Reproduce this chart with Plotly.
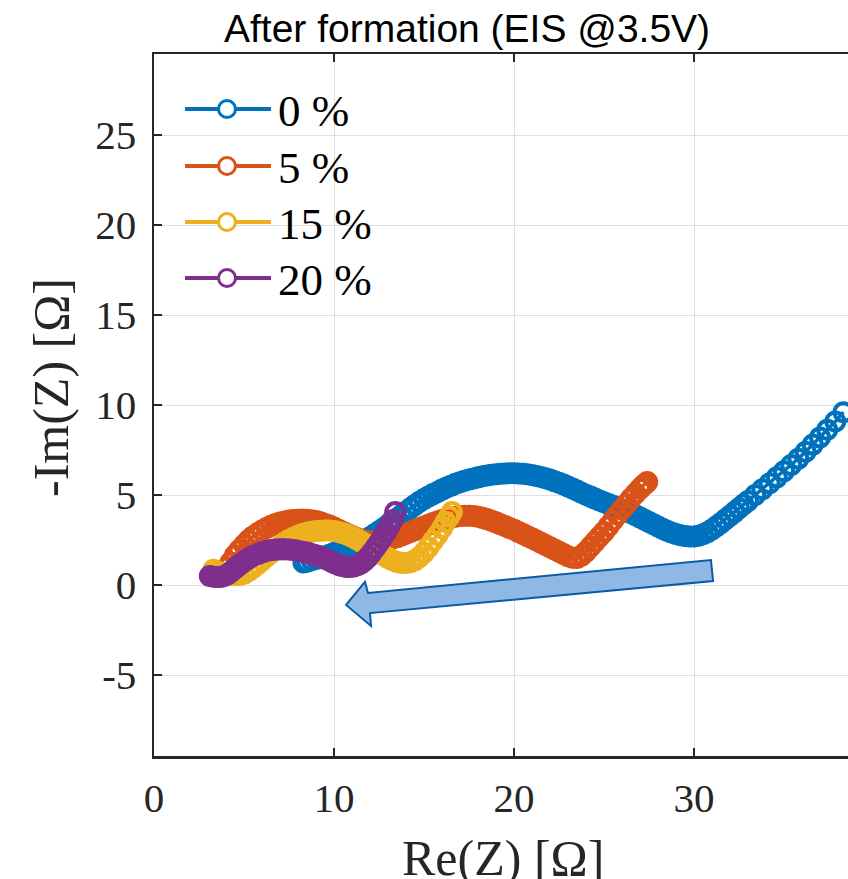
import plotly.graph_objects as go

# ---------------- data ----------------
series_labels = ["0 %", "5 %", "15 %", "20 %"]
series_colors = ["#0072BD", "#D95319", "#EDB120", "#7E2F8E"]

re_0 = [8.3, 8.5, 8.75, 9.0, 9.25, 9.5, 9.75, 10.0, 10.25, 10.5, 10.75, 11.0, 11.25, 11.5,
        11.75, 12.0, 12.25, 12.5, 12.75, 13.0, 13.25, 13.5, 13.75, 14.0, 14.25, 14.5,
        14.75, 15.0, 15.25, 15.5, 15.75, 16.0, 16.25, 16.5, 16.75, 17.0, 17.25, 17.5,
        17.75, 18.0, 18.25, 18.5, 18.75, 19.0, 19.25, 19.5, 19.75, 20.0, 20.25, 20.5,
        20.75, 21.0, 21.25, 21.5, 21.75, 22.0, 22.25, 22.5, 22.75, 23.0, 23.25, 23.5,
        23.75, 24.0, 24.25, 24.5, 24.75, 25.0, 25.25, 25.5, 25.75, 26.0, 26.25, 26.5,
        26.75, 27.0, 27.25, 27.5, 27.75, 28.0, 28.25, 28.5, 28.75, 29.0, 29.25, 29.5,
        29.75, 30.0, 30.25, 30.5, 30.75, 31.0, 31.25, 31.5, 31.75, 32.0, 32.25, 32.5,
        32.75, 33.0, 33.4, 33.8, 34.2, 34.6, 35.0, 35.4, 35.8, 36.2, 36.6, 37.0, 37.4,
        37.85, 38.3]
im_0 = [1.25, 1.3, 1.37, 1.45, 1.52, 1.6, 1.68, 1.78, 1.88, 1.97, 2.07, 2.16, 2.27, 2.4,
        2.52, 2.65, 2.82, 2.98, 3.15, 3.33, 3.52, 3.7, 3.89, 4.07, 4.26, 4.45,
        4.62, 4.78, 4.92, 5.05, 5.17, 5.3, 5.42, 5.52, 5.62, 5.71, 5.79, 5.86,
        5.92, 5.98, 6.04, 6.08, 6.12, 6.15, 6.18, 6.2, 6.21, 6.21, 6.2, 6.18,
        6.15, 6.11, 6.06, 6.0, 5.93, 5.86, 5.77, 5.68, 5.58, 5.47, 5.36, 5.25,
        5.13, 5.01, 4.91, 4.8, 4.7, 4.6, 4.5, 4.4, 4.31, 4.21, 4.11, 4.0,
        3.88, 3.75, 3.62, 3.5, 3.37, 3.25, 3.13, 3.02, 2.92, 2.83, 2.76, 2.72,
        2.7, 2.7, 2.74, 2.82, 2.93, 3.08, 3.26, 3.45, 3.65, 3.85, 4.05, 4.26,
        4.47, 4.67, 5.0, 5.32, 5.65, 5.98, 6.32, 6.67, 7.02, 7.4, 7.8, 8.2, 8.62,
        9.08, 9.6]

re_5 = [4.1, 4.25, 4.5, 4.75, 5.0, 5.25, 5.5, 5.75, 6.0, 6.25, 6.5, 6.75, 7.0, 7.25, 7.5,
        7.75, 8.0, 8.25, 8.5, 8.75, 9.0, 9.25, 9.5, 9.75, 10.0, 10.25, 10.5, 10.75,
        11.0, 11.25, 11.5, 11.75, 12.0, 12.25, 12.5, 12.75, 13.0, 13.25, 13.5, 13.75,
        14.0, 14.25, 14.5, 14.75, 15.0, 15.25, 15.5, 15.75, 16.0, 16.25, 16.5, 16.75,
        17.0, 17.25, 17.5, 17.75, 18.0, 18.25, 18.5, 18.75, 19.0, 19.25, 19.5, 19.75,
        20.0, 20.25, 20.5, 20.75, 21.0, 21.25, 21.5, 21.75, 22.0, 22.25, 22.5, 22.75,
        23.0, 23.25, 23.5, 23.75, 24.0, 24.25, 24.5, 24.75, 25.0, 25.25, 25.5, 25.75,
        26.0, 26.25, 26.5, 26.75, 27.0, 27.15, 27.3, 27.4]
im_5 = [1.0, 1.25, 1.65, 1.95, 2.22, 2.48, 2.7, 2.88, 3.03, 3.17, 3.29, 3.39, 3.47, 3.53, 3.58,
        3.61, 3.63, 3.64, 3.63, 3.6, 3.55, 3.48, 3.39, 3.3, 3.19, 3.07, 2.95, 2.83,
        2.72, 2.61, 2.52, 2.46, 2.42, 2.41, 2.42, 2.46, 2.51, 2.58, 2.66, 2.75,
        2.85, 2.95, 3.05, 3.15, 3.25, 3.35, 3.45, 3.53, 3.61, 3.68, 3.74, 3.79,
        3.83, 3.85, 3.85, 3.83, 3.79, 3.73, 3.66, 3.57, 3.48, 3.38, 3.28, 3.17,
        3.07, 2.95, 2.83, 2.71, 2.6, 2.47, 2.35, 2.22, 2.1, 1.97, 1.85, 1.72,
        1.6, 1.52, 1.5, 1.62, 1.85, 2.12, 2.4, 2.68, 2.95, 3.26, 3.58, 3.9,
        4.2, 4.5, 4.8, 5.08, 5.35, 5.5, 5.62, 5.72]

re_15 = [3.3, 3.5, 3.75, 4.0, 4.25, 4.5, 4.75, 5.0, 5.25, 5.5, 5.75, 6.0, 6.25, 6.5, 6.75,
         7.0, 7.25, 7.5, 7.75, 8.0, 8.25, 8.5, 8.75, 9.0, 9.25, 9.5, 9.75, 10.0, 10.25,
         10.5, 10.75, 11.0, 11.25, 11.5, 11.75, 12.0, 12.25, 12.5, 12.75, 13.0, 13.25,
         13.5, 13.75, 14.0, 14.25, 14.5, 14.75, 15.0, 15.25, 15.5, 15.75, 16.0, 16.2,
         16.4, 16.55]
im_15 = [0.85, 0.76, 0.68, 0.62, 0.57, 0.55, 0.56, 0.62, 0.76, 0.95, 1.15, 1.36, 1.58, 1.8, 1.99,
         2.17, 2.35, 2.5, 2.62, 2.73, 2.83, 2.9, 2.96, 3.0, 3.02, 3.03, 3.03, 3.0, 2.94,
         2.88, 2.79, 2.68, 2.55, 2.41, 2.27, 2.11, 1.95, 1.8, 1.65, 1.5, 1.37,
         1.28, 1.23, 1.22, 1.27, 1.38, 1.56, 1.8, 2.1, 2.44, 2.78, 3.15, 3.5,
         3.8, 4.05]

re_20 = [3.1, 3.3, 3.5, 3.7, 3.9, 4.1, 4.3, 4.5, 4.7, 4.9, 5.1, 5.3, 5.5, 5.7, 5.9, 6.1,
         6.3, 6.5, 6.7, 6.9, 7.1, 7.3, 7.5, 7.7, 7.9, 8.1, 8.3, 8.5, 8.7, 8.9, 9.1, 9.3,
         9.5, 9.7, 9.9, 10.1, 10.3, 10.5, 10.7, 10.9, 11.1, 11.3, 11.5, 11.7, 11.9, 12.1,
         12.3, 12.5, 12.7, 12.9, 13.1, 13.25, 13.4]
im_20 = [0.5, 0.46, 0.44, 0.45, 0.5, 0.6, 0.75, 0.92, 1.08, 1.24, 1.38, 1.5, 1.61, 1.7, 1.78, 1.85,
         1.9, 1.94, 1.96, 1.98, 1.98, 1.98, 1.97, 1.95, 1.92, 1.88, 1.84, 1.8, 1.74, 1.68, 1.62, 1.54,
         1.46, 1.37, 1.27, 1.18, 1.1, 1.04, 1.0, 1.0, 1.03, 1.1, 1.2, 1.35, 1.55, 1.8,
         2.07, 2.35, 2.65, 2.95, 3.3, 3.6, 4.05]

series_re = [re_0, re_5, re_15, re_20]
series_im = [im_0, im_5, im_15, im_20]

# block arrow outline (data units)
arrow_x = [10.67, 11.72, 11.89, 30.94, 31.06, 12.0, 12.06]
arrow_y = [-1.11, 0.17, -0.44, 1.39, 0.22, -1.56, -2.28]

x_tickvals = [0, 10, 20, 30]
x_ticktext = ["0", "10", "20", "30"]
y_tickvals = [-5, 0, 5, 10, 15, 20, 25]
y_ticktext = ["-5", "0", "5", "10", "15", "20", "25"]

title_text = "After formation (EIS @3.5V)"
x_title = "Re(Z) [Ω]"
y_title = "-Im(Z) [Ω]"

# ---------------- layout geometry ----------------
OFF = 0          # page body margin is removed by the post script below
W, H = 848, 879
L, R, T, B = 154, 848, 54, 756
X_RANGE = [0, (R - L) / 18.0]
Y_RANGE = [-9.5, 29.5]

def px_x(px):          # reference-picture pixel -> paper
    return (px - OFF - L) / (R - L)

def px_y(py):
    return (B - (py - OFF)) / (B - T)

AX = "#262626"
SERIF = "Liberation Serif, Times New Roman, serif"
SANS = "Liberation Sans, Arial, sans-serif"

fig = go.Figure()
for re, im, c, lab in zip(series_re, series_im, series_colors, series_labels):
    fig.add_trace(go.Scatter(
        x=re, y=im, mode="lines+markers", name=lab, showlegend=False,
        line=dict(color=c, width=3.5),
        marker=dict(symbol="circle-open", size=18, color=c, line=dict(width=4, color=c)),
        hoverinfo="skip",
    ))

# arrow
path = "M " + " L ".join(f"{x},{y}" for x, y in zip(arrow_x, arrow_y)) + " Z"
fig.add_shape(type="path", path=path, xref="x", yref="y",
              fillcolor="#8FB9E4", line=dict(color="#0B5AA6", width=2), layer="above")

# custom legend (MATLAB style: long line, circle marker, LaTeX-like text)
legend_rows_px = [109, 166, 222, 278]
for row, c, lab in zip(legend_rows_px, series_colors, series_labels):
    fig.add_shape(type="line", xref="paper", yref="paper",
                  x0=px_x(185), x1=px_x(271), y0=px_y(row), y1=px_y(row),
                  line=dict(color=c, width=4), layer="above")
    fig.add_shape(type="circle", xref="paper", yref="paper",
                  xsizemode="pixel", ysizemode="pixel",
                  xanchor=px_x(227), yanchor=px_y(row),
                  x0=-8.5, x1=8.5, y0=-8.5, y1=8.5,
                  fillcolor="white", line=dict(color=c, width=3), layer="above")
    fig.add_annotation(text=lab, xref="paper", yref="paper",
                       x=px_x(276), y=px_y(row + 2), xanchor="left", yanchor="middle",
                       showarrow=False, font=dict(family=SERIF, size=45, color="black"))

# title & axis titles
fig.add_annotation(text=title_text, xref="paper", yref="paper",
                   x=px_x(467), y=px_y(29), xanchor="center", yanchor="middle",
                   showarrow=False, font=dict(family=SANS, size=39, color="black"))
fig.add_annotation(text=x_title, xref="paper", yref="paper",
                   x=px_x(503), y=px_y(858), xanchor="center", yanchor="middle",
                   showarrow=False, font=dict(family=SERIF, size=50, color=AX))
fig.add_annotation(text=y_title, xref="paper", yref="paper",
                   x=px_x(51), y=px_y(388), xanchor="center", yanchor="middle",
                   textangle=-90, showarrow=False, font=dict(family=SERIF, size=50, color=AX))

fig.update_xaxes(range=X_RANGE, tickvals=x_tickvals, ticktext=x_ticktext,
                 showline=True, linecolor=AX, linewidth=2.5, mirror="ticks",
                 ticks="inside", ticklen=8, tickwidth=2, tickcolor=AX,
                 showgrid=True, gridcolor="#DFDFDF", gridwidth=1, zeroline=False,
                 tickfont=dict(family=SERIF, size=41, color=AX), ticklabelstandoff=4)
fig.update_yaxes(range=Y_RANGE, tickvals=y_tickvals, ticktext=y_ticktext,
                 showline=True, linecolor=AX, linewidth=2.5, mirror=False,
                 ticks="inside", ticklen=8, tickwidth=2, tickcolor=AX,
                 showgrid=True, gridcolor="#DFDFDF", gridwidth=1, zeroline=False,
                 tickfont=dict(family=SERIF, size=41, color=AX), ticklabelstandoff=7)

fig.update_layout(width=W, height=H, autosize=False,
                  margin=dict(l=L, r=W - R, t=T, b=H - B, pad=0),
                  plot_bgcolor="white", paper_bgcolor="white", showlegend=False)

fig.write_html("out.html",
               config={"displayModeBar": False, "staticPlot": True},
               post_script="document.body.style.margin='0';document.body.style.overflow='hidden';")
